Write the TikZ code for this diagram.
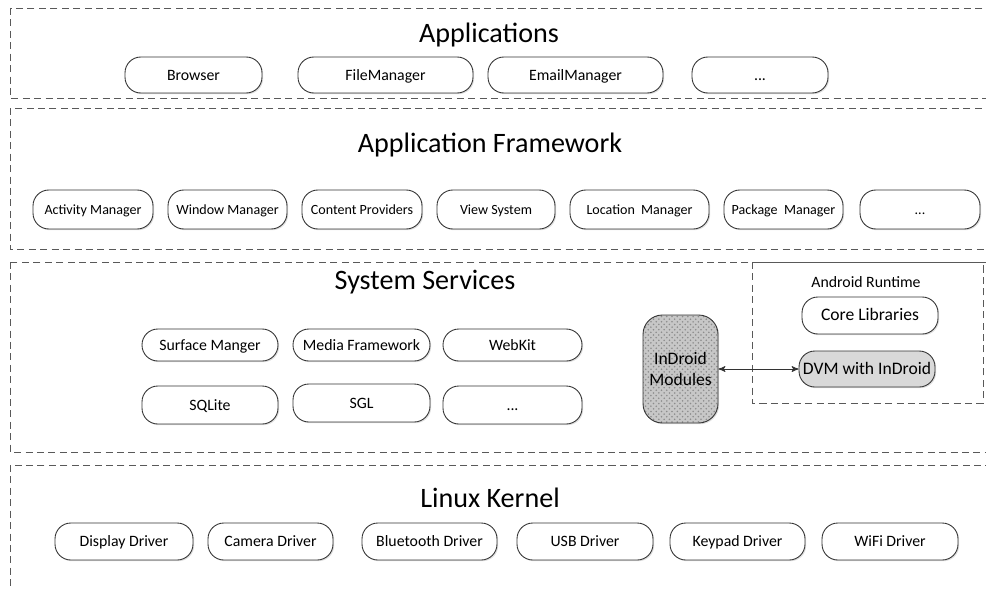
\documentclass[tikz,border=0pt]{standalone}
\usepackage{fontspec}
\setmainfont{Carlito}
\usetikzlibrary{arrows, positioning, shadows, patterns}
\tikzset{
    %Define standard arrow tip
    >=stealth',
}

\begin{document}
\begin{tikzpicture}[x=0.02cm, y=-0.02cm,
    layer/.style = {draw=black!65, dash pattern=on 4pt off 2.5pt, line width=0.5pt},
    title/.style = {font=\fontsize{16}{18}\selectfont},
    comp/.style = {draw=black!80, rounded corners=9pt, fill=white, line width=0.5pt,
                   minimum height=0.72cm, inner sep=1pt,
                   text height=1.6ex, text depth=0.4ex,
                   font=\fontsize{9}{10}\selectfont,
                   drop shadow={shadow xshift=0.7pt, shadow yshift=-0.7pt,
                                opacity=0.25, fill=black!50}},
    fw/.style = {comp, minimum height=0.78cm, font=\fontsize{8}{9}\selectfont},
    grey/.style = {comp, fill=black!15},
  ]
  \useasboundingbox (0,0) rectangle (986,588);
  \clip (0,0) rectangle (986,588);

  % layers
  \draw[layer] (10,8) rectangle (1000,98);
  \draw[layer] (10,108) rectangle (1000,249);
  \draw[layer] (10,262) rectangle (1000,452);
  \draw[layer] (10,465) rectangle (1000,600);

  % applications
  \node[title] (apps) at (489,35) {Applications};
  \node[comp, minimum width=2.74cm] (browser) at (193.5,75) {Browser};
  \node[comp, minimum width=3.5cm] (filemgr) at (385.5,75) {FileManager};
  \node[comp, minimum width=3.5cm] (emailmgr) at (575.5,75) {EmailManager};
  \node[comp, minimum width=2.72cm] (appmore) at (760,75) {...};

  % application framework
  \node[title] (framework) at (490,145) {Application Framework};
  \node[fw, minimum width=2.4cm] (activity) at (93,209.5) {Activity Manager};
  \node[fw, minimum width=2.38cm] (window) at (227.5,209.5) {Window Manager};
  \node[fw, minimum width=2.4cm] (content) at (362,209.5) {Content Providers};
  \node[fw, minimum width=2.36cm] (view) at (496,209.5) {View System};
  \node[fw, minimum width=2.78cm] (location) at (639.5,209.5) {Location~~Manager};
  \node[fw, minimum width=2.38cm] (package) at (783.5,209.5) {Package~~Manager};
  \node[fw, minimum width=2.4cm] (fwmore) at (920,209.5) {...};

  % system services
  \node[title] (services) at (425,282) {System Services};
  \node[comp, minimum width=2.72cm, minimum height=0.64cm] (surface) at (210,345) {Surface Manger};
  \node[comp, minimum width=2.74cm, minimum height=0.64cm] (media) at (361.5,345) {Media Framework};
  \node[comp, minimum width=2.78cm, minimum height=0.64cm] (webkit) at (512.5,345) {WebKit};
  \node[comp, minimum width=2.72cm, minimum height=0.76cm] (sqlite) at (210,405) {SQLite};
  \node[comp, minimum width=2.74cm, minimum height=0.76cm] (sgl) at (361.5,403) {SGL};
  \node[comp, minimum width=2.78cm, minimum height=0.76cm] (svcmore) at (512.5,405) {...};

  \node[comp, rounded corners=11pt, minimum width=1.5cm, minimum height=2.16cm,
        text height=, text depth=,
        preaction={fill=black!22}, pattern=crosshatch dots, pattern color=black!45,
        font=\fontsize{10}{12}\selectfont, align=center] (indroid) at (680.5,369) {InDroid\\Modules};

  % android runtime
  \draw[layer] (752,262) rectangle (983,403);
  \node[font=\fontsize{9}{10}\selectfont] (runtime) at (866,282) {Android Runtime};
  \node[comp, minimum width=2.72cm, minimum height=0.74cm, font=\fontsize{10}{12}\selectfont] (corelib) at (870,315.5) {Core Libraries};
  \node[grey, minimum width=2.72cm, font=\fontsize{10}{12}\selectfont] (dvm) at (867,369) {DVM with InDroid};
  \draw[<->, black!80, line width=0.5pt] (indroid) -- (dvm);

  % linux kernel
  \node[title] (kernel) at (490,498) {Linux Kernel};
  \node[comp, minimum width=2.76cm, minimum height=0.74cm] (display) at (124,541.5) {Display Driver};
  \node[comp, minimum width=2.5cm, minimum height=0.74cm] (camera) at (270.5,541.5) {Camera Driver};
  \node[comp, minimum width=2.7cm, minimum height=0.74cm] (bluetooth) at (429.5,541.5) {Bluetooth Driver};
  \node[comp, minimum width=2.72cm, minimum height=0.74cm] (usb) at (585,541.5) {USB Driver};
  \node[comp, minimum width=2.7cm, minimum height=0.74cm] (keypad) at (737.5,541.5) {Keypad Driver};
  \node[comp, minimum width=2.72cm, minimum height=0.74cm] (wifi) at (890,541.5) {WiFi Driver};
\end{tikzpicture}
\end{document}
